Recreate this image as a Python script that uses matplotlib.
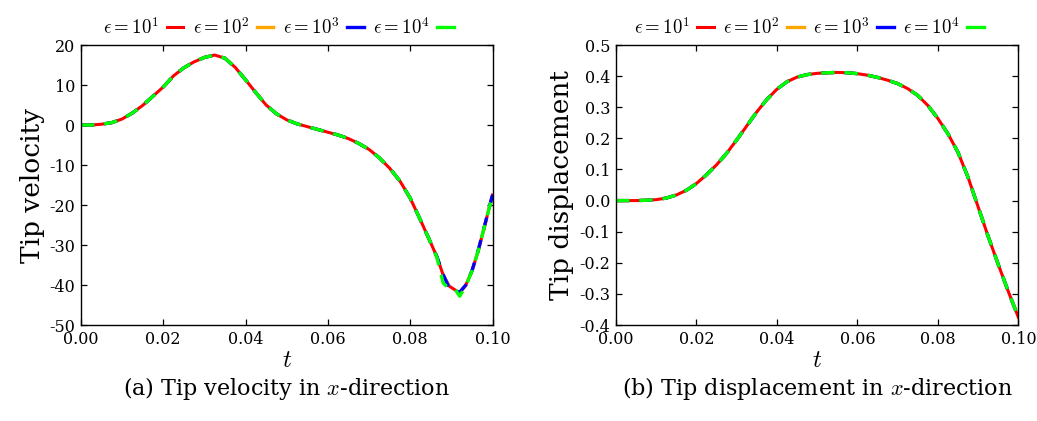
import numpy as np
import matplotlib
matplotlib.use("Agg")
import matplotlib.pyplot as plt
from matplotlib.ticker import FormatStrFormatter

# ================= DATA =================
eps_labels = [r"$\epsilon = 10^1$", r"$\epsilon = 10^2$", r"$\epsilon = 10^3$", r"$\epsilon = 10^4$"]
colors = ["#ff0000", "#ffa500", "#0000ff", "#00ff00"]

t_ticks = [0.0, 0.02, 0.04, 0.06, 0.08, 0.1]
vel_ticks = [-50, -40, -30, -20, -10, 0, 10, 20]
disp_ticks = [-0.4, -0.3, -0.2, -0.1, 0.0, 0.1, 0.2, 0.3, 0.4, 0.5]

# tip velocity, common part up to t = 0.085
t_vel_head = [0.0, 0.0025, 0.005, 0.0075, 0.01, 0.0125, 0.015, 0.0175, 0.02, 0.0225,
              0.025, 0.0275, 0.03, 0.0325, 0.035, 0.0375, 0.04, 0.0425, 0.045, 0.0475,
              0.05, 0.0525, 0.055, 0.0575, 0.06, 0.0625, 0.065, 0.0675, 0.07, 0.0725,
              0.075, 0.0775, 0.08, 0.0825, 0.085]
vel_head = [0.0, 0.0, 0.2, 0.6, 1.5, 3.0, 4.9, 7.2, 9.5, 12.3,
            14.3, 15.8, 16.9, 17.5, 16.7, 14.4, 11.3, 8.1, 5.0, 2.8,
            1.3, 0.3, -0.4, -1.1, -1.8, -2.5, -3.4, -4.6, -6.1, -8.2,
            -10.8, -14.0, -18.3, -23.8, -29.5]
# tail near the minimum, where the runs differ a little
t_vel_tail = [0.0865, 0.088, 0.0895, 0.091, 0.092, 0.0935, 0.095, 0.0965, 0.098, 0.1]
vel_tail_1 = [-33.0, -37.5, -40.3, -41.3, -41.9, -40.0, -36.5, -31.5, -25.5, -17.5]
vel_tail_2 = [-33.0, -37.6, -40.5, -41.6, -42.0, -40.1, -36.5, -31.5, -25.5, -17.5]
vel_tail_3 = [-33.0, -37.4, -40.8, -41.5, -41.8, -40.0, -36.4, -31.4, -25.4, -17.4]
vel_tail_4 = [-33.2, -39.5, -41.0, -41.2, -42.8, -40.3, -36.5, -31.5, -25.5, -17.5]

# tip displacement
t_disp = [0.0, 0.0025, 0.005, 0.0075, 0.01, 0.0125, 0.015, 0.0175, 0.02, 0.0225,
          0.025, 0.0275, 0.03, 0.0325, 0.035, 0.0375, 0.04, 0.0425, 0.045, 0.0475,
          0.05, 0.0525, 0.055, 0.0575, 0.06, 0.0625, 0.065, 0.0675, 0.07, 0.0725,
          0.075, 0.0775, 0.08, 0.0825, 0.085, 0.0875, 0.09, 0.0925, 0.095, 0.0975, 0.1]
disp = [0.0, 0.0, 0.0, 0.001, 0.003, 0.008, 0.018, 0.033, 0.055, 0.083,
        0.115, 0.152, 0.195, 0.24, 0.285, 0.325, 0.358, 0.382, 0.397, 0.405,
        0.409, 0.411, 0.412, 0.411, 0.408, 0.403, 0.396, 0.387, 0.376, 0.36,
        0.338, 0.306, 0.264, 0.215, 0.155, 0.075, -0.02, -0.115, -0.205, -0.292, -0.375]

vel_tails = [vel_tail_1, vel_tail_2, vel_tail_3, vel_tail_4]

# ================= STYLE =================
plt.rcParams["font.family"] = "serif"
plt.rcParams["font.serif"] = ["DejaVu Serif"]
plt.rcParams["mathtext.fontset"] = "cm"
plt.rcParams["axes.unicode_minus"] = False


def style_axes(ax):
    ax.tick_params(direction="in", top=True, right=True, length=4, width=0.9,
                   labelsize=11.5, pad=4)
    for s in ax.spines.values():
        s.set_linewidth(1.0)
    ax.set_xlim(0, 0.1)
    ax.set_xticks(t_ticks)
    ax.xaxis.set_major_formatter(FormatStrFormatter("%.2f"))
    ax.set_xlabel(r"$t$", fontsize=18, labelpad=1)
    leg = ax.legend(loc="lower center", bbox_to_anchor=(0.48, 1.0), ncol=4,
                    frameon=False, markerfirst=False, handlelength=0.9,
                    handletextpad=0.4, columnspacing=0.5, fontsize=13.5,
                    borderaxespad=0.0)
    for line in leg.get_lines():
        line.set_linestyle("-")


fig = plt.figure(figsize=(10.37, 4.21), dpi=100)
ax1 = fig.add_axes([0.078, 0.228, 0.397, 0.665])
ax2 = fig.add_axes([0.594, 0.228, 0.388, 0.665])

dash = (4.0, 3.0)

# ── (a) Tip velocity ──
t_vel = t_vel_head + t_vel_tail
for i, (lab, c) in enumerate(zip(eps_labels, colors)):
    v = vel_head + vel_tails[i]
    if i == 0:
        ax1.plot(t_vel, v, color=c, lw=2.2, label=lab)
    else:
        ax1.plot(t_vel, v, color=c, lw=2.4, label=lab, dashes=dash)
ax1.set_ylim(-50, 20)
ax1.set_yticks(vel_ticks)
ax1.set_ylabel("Tip velocity", fontsize=19, labelpad=3)
style_axes(ax1)

# ── (b) Tip displacement ──
for i, (lab, c) in enumerate(zip(eps_labels, colors)):
    if i == 0:
        ax2.plot(t_disp, disp, color=c, lw=2.2, label=lab)
    else:
        ax2.plot(t_disp, disp, color=c, lw=2.4, label=lab, dashes=dash)
ax2.set_ylim(-0.4, 0.5)
ax2.set_yticks(disp_ticks)
ax2.yaxis.set_major_formatter(FormatStrFormatter("%.1f"))
ax2.set_ylabel("Tip displacement", fontsize=19, labelpad=4)
style_axes(ax2)

# captions
fig.text(0.078 + 0.397 / 2, 0.078, r"(a) Tip velocity in $x$-direction",
         ha="center", va="center", fontsize=16)
fig.text(0.594 + 0.388 / 2, 0.078, r"(b) Tip displacement in $x$-direction",
         ha="center", va="center", fontsize=16)

fig.savefig("out.png", dpi=100)
